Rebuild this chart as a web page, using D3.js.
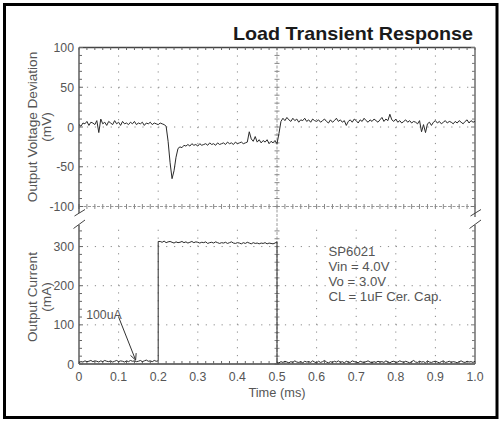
<!DOCTYPE html>
<html><head><meta charset="utf-8">
<script src="https://cdn.jsdelivr.net/npm/d3@7"></script>
<style>
html,body{margin:0;padding:0;background:#fff;}
svg{display:block;font-family:"Liberation Sans",Arial,sans-serif;}
</style></head>
<body>
<script>
// ---------- data ----------
const title = "Load Transient Response";
const xTicks = [0,0.1,0.2,0.3,0.4,0.5,0.6,0.7,0.8,0.9,1.0];
const xTickLabels = ["0","0.1","0.2","0.3","0.4","0.5","0.6","0.7","0.8","0.9","1.0"];
const voltTicks = [-100,-50,0,50,100];
const currTicks = [0,100,200,300];
const sampleStep = 0.005;
// output voltage deviation (mV), sampled every 0.005 ms from 0 to 1.0 ms
const voltage = [
 3,1,5,4,7,2,6,5,3,8,
 -7,10,4,6,2,7,5,3,8,4,
 6,2,7,4,5,3,6,4,7,3,
 5,4,6,2,5,4,6,3,5,4,
 3,5,4,3,
 1,-18,-45,-65,-55,-38,-27,-25,-26,
 -23,-24,-22,-24,-21,-23,-22,-24,-21,-23,
 -22,-21,-23,-20,-22,-21,-23,-20,-22,-21,
 -20,-22,-19,-21,-20,-22,-19,-21,-20,-19,
 -21,-20,-19,
 -6,
 -15,-18,-12,-19,-16,-20,-17,-19,-16,-21,-18,-20,-17,
 -21,
 -8,
 7,
 11,8,12,9,7,11,8,10,6,9,
 8,11,7,9,6,10,8,7,9,6,
 8,10,7,5,9,6,8,11,7,9,
 6,8,2,7,9,6,10,8,5,9,
 7,11,8,6,9,7,10,8,6,9,
 12,7,10,8,16,9,7,10,6,8,
 5,7,9,6,8,5,7,6,4,8,
 -6,3,-7,4,6,2,6,8,5,7,
 4,6,8,5,7,6,4,7,5,8,
 6,4,7,9,5,8,6,7
];
// output current (mA): low segment 0..0.2 ms, high segment 0.205..0.5 ms, low segment 0.505..1.0 ms
const currentLowStart = [
 4,6,5,8,6,7,9,6,8,7,5,8,6,9,7,6,8,5,7,9,6,8,7,5,8,6,9,7,8,6,7,9,6,8,10,7,8,6,9,7,8
];
const currentHigh = [
 313,311,314,310,312,313,311,309,312,310,
 311,313,310,312,309,311,313,310,312,311,
 309,311,310,312,308,310,311,309,312,310,
 308,310,309,311,308,310,312,309,308,310,
 309,307,310,308,311,309,307,310,308,309,
 307,309,308,310,307,309,308,307,309,312
];
const currentLowEnd = [
 3,6,4,7,5,3,6,4,8,5,
 4,6,3,7,5,6,4,8,5,3,
 7,4,6,9,5,3,6,4,7,5,
 8,4,6,3,7,5,4,8,6,5,
 3,7,5,4,6,8,5,3,6,4,
 7,5,6,4,8,5,3,6,7,4,
 5,8,6,4,7,5,3,6,9,5,
 4,7,5,6,3,8,5,4,6,7,
 5,3,6,8,4,5,7,4,6,5,
 3,6,8,5,4,7,5,6,4,7
];
const stepOnTime = 0.2, stepOffTime = 0.5;
const notes = ["SP6021","Vin = 4.0V","Vo = 3.0V","CL = 1uF Cer. Cap."];
const arrowLabel = "100uA";

// ---------- layout ----------
const W = 502, H = 421;
const x = d3.scaleLinear([0,1],[79,475]);
const yV = d3.scaleLinear([-100,100],[206.5,47.5]);
const yI = d3.scaleLinear([0,350],[364,227]);
const vTop = 47.5, vBot = 213, iTop = 225, iBot = 364;

const svg = d3.select("body").append("svg").attr("width",W).attr("height",H);
svg.append("rect").attr("x",4.5).attr("y",4.5).attr("width",492.5).attr("height",413)
  .attr("fill","none").attr("stroke","#000").attr("stroke-width",3);

const gridCol = "#8a8a8a";
const g = svg.append("g");

// minor steps
const xMinor = d3.range(0,1.0001,0.02);
const vMinor = d3.range(-100,100.001,10);
const iMinor = d3.range(0,340.001,20);

// vertical dotted grid
xTicks.filter(t=>t>0 && t<1 && t!==0.5).forEach(t=>{
  g.append("line").attr("x1",x(t)).attr("x2",x(t)).attr("y1",vTop).attr("y2",vBot)
    .attr("stroke",gridCol).attr("stroke-width",1).attr("stroke-dasharray","1.2,6.75");
  g.append("line").attr("x1",x(t)).attr("x2",x(t)).attr("y1",iBot).attr("y2",iTop)
    .attr("stroke",gridCol).attr("stroke-width",1).attr("stroke-dasharray","1.2,6.63");
});
// horizontal dotted grid
[50,0,-50].forEach(v=>{
  g.append("line").attr("x1",x(0)).attr("x2",x(1)).attr("y1",yV(v)).attr("y2",yV(v))
    .attr("stroke",gridCol).attr("stroke-dasharray","1.2,6.72");
});
[100,200,300].forEach(v=>{
  g.append("line").attr("x1",x(0)).attr("x2",x(1)).attr("y1",yI(v)).attr("y2",yI(v))
    .attr("stroke",gridCol).attr("stroke-dasharray","1.2,6.72");
});
// center cross lines (-100 mV row and 0.5 ms column)
g.append("line").attr("x1",x(0)).attr("x2",x(1)).attr("y1",yV(-100)).attr("y2",yV(-100))
  .attr("stroke","#9a9a9a").attr("stroke-dasharray","3,1.5");
xMinor.forEach(t=>{
  g.append("line").attr("x1",x(t)).attr("x2",x(t)).attr("y1",yV(-100)-2.5).attr("y2",yV(-100)+2.5)
    .attr("stroke","#8a8a8a");
});
g.append("line").attr("x1",x(0.5)).attr("x2",x(0.5)).attr("y1",vTop).attr("y2",iBot)
  .attr("stroke","#9a9a9a").attr("stroke-dasharray","3,1.5");
vMinor.forEach(v=>{
  g.append("line").attr("x1",x(0.5)-2.5).attr("x2",x(0.5)+2.5).attr("y1",yV(v)).attr("y2",yV(v))
    .attr("stroke","#8a8a8a");
});
iMinor.forEach(v=>{
  g.append("line").attr("x1",x(0.5)-2.5).attr("x2",x(0.5)+2.5).attr("y1",yI(v)).attr("y2",yI(v))
    .attr("stroke","#8a8a8a");
});

// ---------- frame / axes ----------
const axCol = "#444";
g.append("line").attr("x1",x(0)).attr("x2",x(0)).attr("y1",vTop).attr("y2",vBot).attr("stroke",axCol).attr("stroke-width",1.3);
g.append("line").attr("x1",x(0)).attr("x2",x(0)).attr("y1",iTop).attr("y2",iBot).attr("stroke",axCol).attr("stroke-width",1.3);
g.append("line").attr("x1",x(1)).attr("x2",x(1)).attr("y1",vTop).attr("y2",vBot+4).attr("stroke","#777").attr("stroke-width",1.6);
g.append("line").attr("x1",x(1)).attr("x2",x(1)).attr("y1",iTop).attr("y2",iBot).attr("stroke","#777").attr("stroke-width",1.6);
g.append("line").attr("x1",x(0)).attr("x2",x(1)).attr("y1",vTop).attr("y2",vTop).attr("stroke",axCol).attr("stroke-width",1.3);
g.append("line").attr("x1",x(0)).attr("x2",x(1)).attr("y1",iBot).attr("y2",iBot).attr("stroke",axCol).attr("stroke-width",1.3);

// minor ticks
vMinor.forEach(v=>{
  const len = voltTicks.includes(v)?4:3;
  g.append("line").attr("x1",x(0)).attr("x2",x(0)+len).attr("y1",yV(v)).attr("y2",yV(v)).attr("stroke","#666");
  g.append("line").attr("x1",x(1)).attr("x2",x(1)-len).attr("y1",yV(v)).attr("y2",yV(v)).attr("stroke","#777");
});
iMinor.forEach(v=>{
  const len = currTicks.includes(v)?4:3;
  g.append("line").attr("x1",x(0)).attr("x2",x(0)+len).attr("y1",yI(v)).attr("y2",yI(v)).attr("stroke","#666");
  g.append("line").attr("x1",x(1)).attr("x2",x(1)-len).attr("y1",yI(v)).attr("y2",yI(v)).attr("stroke","#777");
});
xMinor.forEach(t=>{
  g.append("line").attr("x1",x(t)).attr("x2",x(t)).attr("y1",vTop).attr("y2",vTop+2.5).attr("stroke","#666");
  g.append("line").attr("x1",x(t)).attr("x2",x(t)).attr("y1",iBot).attr("y2",iBot-3).attr("stroke","#666");
});

// axis breaks
[x(0), x(1)].forEach(px=>{
  g.append("line").attr("x1",px-4.5).attr("y1",vBot+3).attr("x2",px+6).attr("y2",vBot-3.5).attr("stroke","#444");
  g.append("line").attr("x1",px-5.5).attr("y1",iTop+3.5).attr("x2",px+6).attr("y2",iTop-5).attr("stroke","#444");
});

// ---------- tick labels ----------
const lblCol = "#555", fs = 12.3;
voltTicks.forEach(v=>{
  svg.append("text").attr("x",x(0)-5).attr("y",yV(v)+4.5).attr("text-anchor","end")
    .attr("font-size",fs).attr("fill",lblCol).text(v);
});
currTicks.forEach(v=>{
  svg.append("text").attr("x",x(0)-5).attr("y",yI(v)+4.5).attr("text-anchor","end")
    .attr("font-size",fs).attr("fill",lblCol).text(v);
});
xTicks.forEach((t,i)=>{
  svg.append("text").attr("x",x(t)).attr("y",381).attr("text-anchor","middle")
    .attr("font-size",fs).attr("fill",lblCol).text(xTickLabels[i]);
});
svg.append("text").attr("x",x(0.5)).attr("y",397).attr("text-anchor","middle")
  .attr("font-size",12.8).attr("fill",lblCol).text("Time (ms)");

function yLabel(lines, cy){
  const t = svg.append("text").attr("transform",`translate(36.5,${cy}) rotate(-90)`)
    .attr("text-anchor","middle").attr("font-size",13.6).attr("fill",lblCol);
  lines.forEach((l,i)=>t.append("tspan").attr("x",0).attr("y",i*14).text(l));
}
yLabel(["Output Voltage Deviation","(mV)"], yV(0));
yLabel(["Output Current","(mA)"], 297);

svg.append("text").attr("x",473).attr("y",40).attr("text-anchor","end")
  .attr("font-size",18.5).attr("font-weight","bold").attr("fill","#1a1a1a")
  .attr("textLength",240).attr("lengthAdjust","spacingAndGlyphs").text(title);

// ---------- traces ----------
const traceCol = "#2a2a2a";
const vPts = voltage.map((v,i)=>[i*sampleStep, v]);
svg.append("path").datum(vPts)
  .attr("d", d3.line().x(d=>x(d[0])).y(d=>yV(d[1])))
  .attr("fill","none").attr("stroke",traceCol).attr("stroke-width",1);

const iPts = []
  .concat(currentLowStart.map((v,i)=>[i*sampleStep, v]))
  .concat([[stepOnTime, currentHigh[0]]])
  .concat(currentHigh.map((v,i)=>[stepOnTime + (i+1)*sampleStep, v]))
  .concat([[stepOffTime, currentLowEnd[0]]])
  .concat(currentLowEnd.map((v,i)=>[stepOffTime + (i+1)*sampleStep, v]));
svg.append("path").datum(iPts)
  .attr("d", d3.line().x(d=>x(d[0])).y(d=>yI(d[1])))
  .attr("fill","none").attr("stroke",traceCol).attr("stroke-width",1);

// ---------- annotations ----------
notes.forEach((n,i)=>{
  svg.append("text").attr("x",x(0.63)).attr("y",256+i*15).attr("font-size",13.2)
    .attr("fill",lblCol).text(n);
});
svg.append("text").attr("x",x(0.018)).attr("y",yI(115)).attr("font-size",12.3)
  .attr("fill",lblCol).text(arrowLabel);
const a0 = [x(0.1), yI(120)], a1 = [x(0.143), yI(10)];
svg.append("line").attr("x1",a0[0]).attr("y1",a0[1]).attr("x2",a1[0]).attr("y2",a1[1])
  .attr("stroke","#333").attr("stroke-width",1);
const ang = Math.atan2(a1[1]-a0[1], a1[0]-a0[0]);
[0.45,-0.45].forEach(d=>{
  svg.append("line").attr("x1",a1[0]).attr("y1",a1[1])
    .attr("x2",a1[0]-7*Math.cos(ang+d)).attr("y2",a1[1]-7*Math.sin(ang+d))
    .attr("stroke","#333").attr("stroke-width",1);
});
</script>
</body></html>
